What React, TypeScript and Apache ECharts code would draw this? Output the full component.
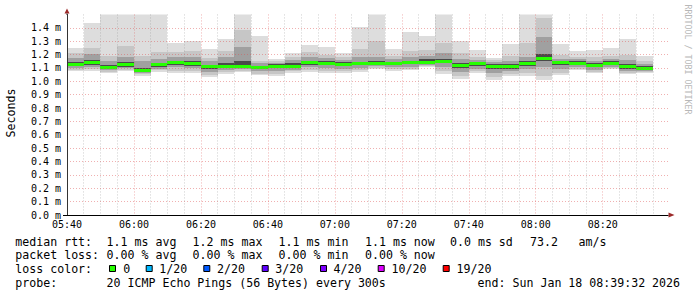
import React, { useEffect, useRef } from 'react';
import * as echarts from 'echarts';

// column start times, minutes since midnight (05:40 ... 08:30), 5-minute steps
const colStart = [340, 345, 350, 355, 360, 365, 370, 375, 380, 385, 390, 395, 400, 405, 410, 415, 420, 425, 430, 435, 440, 445, 450, 455, 460, 465, 470, 475, 480, 485, 490, 495, 500, 505, 510];

// ping distribution per column (ms): sorted ping ranks, outermost to innermost
const maxPing = [1.249, 1.436, 1.5, 1.5, 1.5, 1.5, 1.289, 1.301, 1.242, 1.316, 1.5, 1.339, 1.164, 1.209, 1.274, 1.259, 1.214, 1.404, 1.5, 1.242, 1.369, 1.339, 1.5, 1.301, 1.234, 1.177, 1.281, 1.5, 1.5, 1.279, 1.224, 1.234, 1.249, 1.316, 1.192];
const hi2 = [1.212, 1.247, 1.189, 1.264, 1.19, 1.217, 1.217, 1.229, 1.172, 1.229, 1.384, 1.154, 1.15, 1.18, 1.22, 1.2, 1.18, 1.239, 1.3, 1.19, 1.23, 1.234, 1.284, 1.21, 1.18, 1.16, 1.19, 1.284, 1.47, 1.2, 1.185, 1.18, 1.19, 1.2, 1.15];
const hi4 = [1.175, 1.204, 1.15, 1.184, 1.15, 1.17, 1.18, 1.185, 1.15, 1.18, 1.259, 1.135, 1.14, 1.16, 1.18, 1.175, 1.16, 1.18, 1.18, 1.165, 1.18, 1.19, 1.209, 1.165, 1.16, 1.145, 1.15, 1.18, 1.334, 1.17, 1.165, 1.155, 1.165, 1.16, 1.13];
const hiCore = [1.145, 1.16, 1.125, 1.145, 1.1, 1.14, 1.155, 1.15, 1.125, 1.135, 1.15, 1.118, 1.128, 1.135, 1.155, 1.15, 1.145, 1.148, 1.15, 1.148, 1.155, 1.165, 1.17, 1.14, 1.145, 1.128, 1.128, 1.15, 1.204, 1.155, 1.15, 1.135, 1.15, 1.13, 1.112];
const median = [1.132, 1.142, 1.107, 1.129, 1.085, 1.127, 1.142, 1.135, 1.112, 1.118, 1.118, 1.104, 1.117, 1.117, 1.142, 1.14, 1.132, 1.135, 1.139, 1.135, 1.142, 1.147, 1.154, 1.124, 1.135, 1.114, 1.114, 1.135, 1.173, 1.142, 1.137, 1.122, 1.137, 1.114, 1.099];
const loCore = [1.115, 1.125, 1.095, 1.11, 1.075, 1.11, 1.125, 1.118, 1.09, 1.1, 1.105, 1.09, 1.1, 1.1, 1.125, 1.122, 1.115, 1.12, 1.125, 1.12, 1.128, 1.135, 1.135, 1.1, 1.115, 1.09, 1.095, 1.115, 1.15, 1.12, 1.12, 1.105, 1.122, 1.095, 1.085];
const lo4 = [1.1, 1.105, 1.085, 1.098, 1.065, 1.095, 1.105, 1.1, 1.07, 1.085, 1.092, 1.075, 1.08, 1.088, 1.105, 1.1, 1.095, 1.1, 1.112, 1.105, 1.11, 1.125, 1.105, 1.07, 1.095, 1.06, 1.075, 1.09, 1.11, 1.09, 1.105, 1.085, 1.108, 1.078, 1.075];
const lo2 = [1.088, 1.09, 1.072, 1.088, 1.052, 1.082, 1.08, 1.08, 1.05, 1.068, 1.08, 1.058, 1.058, 1.075, 1.085, 1.08, 1.075, 1.085, 1.1, 1.09, 1.095, 1.117, 1.075, 1.04, 1.078, 1.03, 1.055, 1.062, 1.04, 1.065, 1.095, 1.07, 1.098, 1.063, 1.068];
const minPing = [1.077, 1.075, 1.06, 1.079, 1.042, 1.072, 1.065, 1.065, 1.035, 1.055, 1.072, 1.044, 1.042, 1.065, 1.072, 1.065, 1.06, 1.072, 1.09, 1.077, 1.085, 1.11, 1.058, 1.02, 1.065, 1.01, 1.04, 1.042, 1.011, 1.05, 1.087, 1.062, 1.092, 1.055, 1.065];

const rttStats = ['1.1 ms avg', '1.2 ms max', '1.1 ms min', '1.1 ms now', '0.0 ms sd', '73.2', 'am/s'];
const lossStats = ['0.00 % avg', '0.00 % max', '0.00 % min', '0.00 % now'];
const lossLabels = ['0', '1/20', '2/20', '3/20', '4/20', '10/20', '19/20'];
const lossColors = ['#26ff00', '#00b8ff', '#0059ff', '#5e00ff', '#7e00ff', '#dd00ff', '#ff0000'];
const probeText = '20 ICMP Echo Pings (56 Bytes) every 300s';
const endText = 'end: Sun Jan 18 08:39:32 2026';

const MONO = '"DejaVu Sans Mono", monospace';
const STEP = 5;

export default function App() {
  const ref = useRef<HTMLDivElement>(null);
  useEffect(() => {
    if (!ref.current) return;
    const chart = echarts.init(ref.current, undefined, { renderer: 'svg' });
    const data = colStart.map((t, i) => [t, minPing[i], lo2[i], lo4[i], loCore[i], median[i], hiCore[i], hi4[i], hi2[i], maxPing[i]]);
    const major = 'rgba(222,80,80,0.45)';
    const minor = 'rgba(143,143,143,0.45)';
    const rttX = [107.3, 193.3, 279.3, 365.7, 450.7, 530.7, 579.3];
    const boxX = [109, 145.7, 203.3, 261.7, 320, 377.7, 442.7];
    const labX = [124, 160, 217.7, 276, 334.3, 392.3, 457.3];
    const txt = (x: number, y: number, text: string, extra: any = {}) => ({
      type: 'text', x: x - 0.7, y, silent: true,
      style: { text, fill: '#000', font: `11.6px ${MONO}`, align: 'left', verticalAlign: 'middle', ...extra },
    });
    const graphics: any[] = [];
    graphics.push(txt(16, 241.5, 'median rtt:'));
    rttStats.forEach((s, i) => graphics.push(txt(rttX[i], 241.5, s)));
    graphics.push(txt(16, 255, 'packet loss:'));
    lossStats.forEach((s, i) => graphics.push(txt(rttX[i], 255, s)));
    graphics.push(txt(16, 269, 'loss color:'));
    lossLabels.forEach((s, i) => {
      graphics.push({ type: 'rect', silent: true, shape: { x: boxX[i] + 0.5, y: 265.5, width: 6, height: 6 }, style: { fill: lossColors[i], stroke: '#000', lineWidth: 1 } });
      graphics.push(txt(labX[i], 269, s));
    });
    graphics.push(txt(16, 283, 'probe:'));
    graphics.push(txt(107.3, 283, probeText));
    graphics.push(txt(478.3, 283, endText));
    graphics.push({ type: 'text', x: 10.5, y: 113, rotation: Math.PI / 2, silent: true, style: { text: 'Seconds', fill: '#000', font: `11.6px ${MONO}`, align: 'center', verticalAlign: 'middle' } });
    graphics.push({ type: 'text', x: 688, y: 4.5, rotation: -Math.PI / 2, silent: true, style: { text: 'RRDTOOL / TOBI OETIKER', fill: '#b8b8b8', font: `8.3px ${MONO}`, align: 'left', verticalAlign: 'middle' } });
    // axis arrows and stub
    graphics.push({ type: 'polygon', silent: true, shape: { points: [[67, 8.5], [64.5, 13.5], [69.5, 13.5]] }, style: { fill: '#9c2a2a' } });
    graphics.push({ type: 'polygon', silent: true, shape: { points: [[674.5, 215], [668.5, 212.5], [668.5, 217.5]] }, style: { fill: '#9c2a2a' } });
    graphics.push({ type: 'line', silent: true, shape: { x1: 63, y1: 215.5, x2: 67, y2: 215.5 }, style: { stroke: '#000', lineWidth: 1 } });
    graphics.push({ type: 'line', silent: true, shape: { x1: 67, y1: 13.5, x2: 67, y2: 15 }, style: { stroke: '#333', lineWidth: 1 } });

    chart.setOption({
      animation: false,
      backgroundColor: '#fff',
      grid: { left: 67, right: 29, top: 14.45, bottom: 82, containLabel: false },
      xAxis: {
        type: 'value', min: 340, max: 519.5, interval: 5, z: 5,
        axisLine: { show: true, onZero: false, lineStyle: { color: '#000', width: 1 } },
        axisTick: { show: false },
        axisLabel: {
          margin: 4, color: '#000', fontFamily: MONO, fontSize: 10, showMaxLabel: true,
          formatter: (v: number) => {
            if (Math.abs(v % 20) > 1e-6) return '';
            const h = Math.floor(v / 60), m = Math.round(v % 60);
            return `${String(h).padStart(2, '0')}:${String(m).padStart(2, '0')}`;
          },
        },
        splitLine: { show: true, showMaxLine: false, lineStyle: { color: [major, minor, minor, minor], type: [1, 2], width: 1 } },
      },
      yAxis: {
        type: 'value', min: 0, max: 1.5, interval: 0.1, z: 5,
        axisLine: { show: true, lineStyle: { color: '#333', width: 1 } },
        axisTick: { show: false },
        axisLabel: {
          margin: 6, color: '#000', fontFamily: MONO, fontSize: 10, showMaxLabel: false,
          formatter: (v: number) => (v > 1.45 ? '' : `${v.toFixed(1)} m`),
        },
        splitLine: { show: true, showMaxLine: false, lineStyle: { color: major, type: [1, 2], width: 1 } },
      },
      series: [{
        type: 'custom', z: 2, clip: true,
        encode: { x: 0, y: [1, 9] },
        data,
        renderItem: (params: any, api: any) => {
          const t = api.value(0);
          const layers: [number, number, string][] = [[1, 9, '#dddddd'], [2, 8, '#c6c6c6'], [3, 7, '#a0a0a0'], [4, 6, '#4a4a4a']];
          const children: any[] = layers.map(([lo, hi, c]) => {
            const p0 = api.coord([t, api.value(hi)]);
            const p1 = api.coord([t + STEP, api.value(lo)]);
            const x0 = Math.round(p0[0]), x1 = Math.round(p1[0]);
            const y0 = Math.round(p0[1]), y1 = Math.round(p1[1]);
            return { type: 'rect', shape: { x: x0, y: y0, width: x1 - x0, height: Math.max(1, y1 - y0) }, style: { fill: c } };
          });
          const m0 = api.coord([t, api.value(5)]);
          const m1 = api.coord([t + STEP, api.value(5)]);
          const mx0 = Math.round(m0[0]), mx1 = Math.round(m1[0]);
          children.push({ type: 'rect', shape: { x: mx0, y: Math.round(m0[1]) - 1, width: mx1 - mx0, height: 3 }, style: { fill: lossColors[0] } });
          return { type: 'group', children };
        },
      }],
      graphic: graphics,
    });
    return () => chart.dispose();
  }, []);
  return <div ref={ref} style={{ position: 'absolute', left: 0, top: 0, width: 697, height: 297, background: '#fff' }} />;
}
